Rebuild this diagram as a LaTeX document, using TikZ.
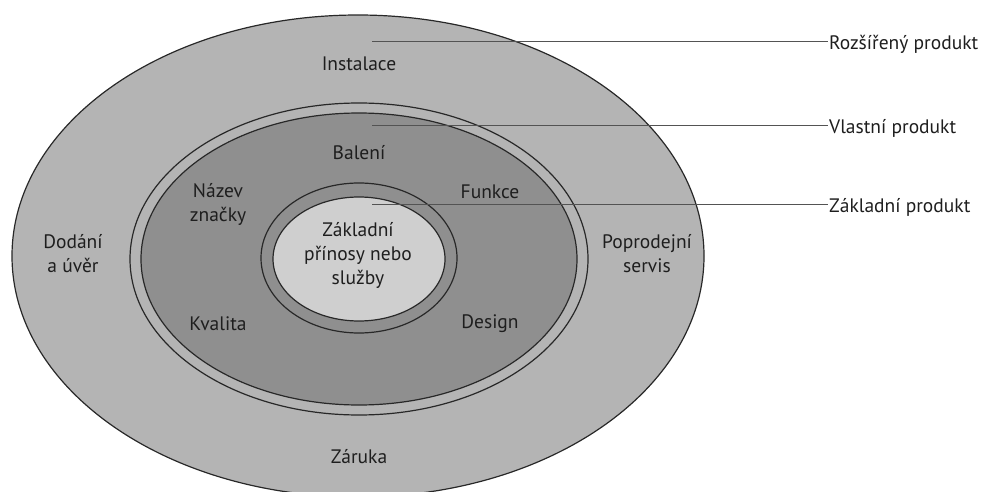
\documentclass[tikz,border=0pt]{standalone}
\usepackage{fontspec}
\setmainfont{PT Sans}
\usepackage{tikz}
\usetikzlibrary{positioning}
\definecolor{ringline}{RGB}{40,40,40}
\definecolor{outergrey}{RGB}{180,180,180}
\definecolor{midgrey}{RGB}{143,143,143}
\definecolor{coregrey}{RGB}{207,207,207}
\definecolor{txtgrey}{RGB}{30,30,30}

\begin{document}
\begin{tikzpicture}[
  x=1pt, y=-1pt,
  font=\fontsize{19.5}{24}\selectfont,
  ring/.style={draw=ringline, line width=1.2pt},
  lbl/.style={align=center, text=txtgrey, inner sep=1pt},
  side/.style={anchor=west, text=txtgrey, inner sep=1pt},
  lead/.style={draw=ringline!80, line width=1pt}
]
\useasboundingbox (0,0) rectangle (995,492);

% ── Rings, from the outside in ──
\draw[ring, fill=outergrey] (358,256) ellipse [x radius=346pt, y radius=241pt];
\draw[ring, fill=outergrey] (359,259) ellipse [x radius=229pt, y radius=156pt];
\draw[ring, fill=midgrey]   (359,259) ellipse [x radius=218pt, y radius=146pt];
\draw[ring, fill=midgrey]   (359,258) ellipse [x radius=98pt,  y radius=75pt];
\draw[ring, fill=coregrey]  (359,259) ellipse [x radius=86pt,  y radius=62pt];

% ── Texts inside the rings ──
\node[lbl] (core)  at (358,255) {Základní\\přínosy nebo\\služby};
\node[lbl] (inst)  at (359,64)  {Instalace};
\node[lbl] (bal)   at (359,153) {Balení};
\node[lbl] (naz)   at (218,204) {Název\\značky};
\node[lbl] (fun)   at (490,192) {Funkce};
\node[lbl] (dod)   at (73,254)  {Dodání\\a úvěr};
\node[lbl] (popr)  at (647,254) {Poprodejní\\servis};
\node[lbl] (kva)   at (218,324) {Kvalita};
\node[lbl] (des)   at (490,324) {Design};
\node[lbl] (zar)   at (359,457) {Záruka};

% ── Labels on the right ──
\node[side] (rozs) at (828,44)  {Rozšířený produkt};
\node[side] (vlas) at (828,128) {Vlastní produkt};
\node[side] (zakl) at (828,207) {Základní produkt};

% ── Leader lines ──
\coordinate (prozs) at (372,42);
\coordinate (pvlas) at (372,126);
\coordinate (pzakl) at (372,204);
\draw[lead] (prozs) -- (prozs -| rozs.west);
\draw[lead] (pvlas) -- (pvlas -| vlas.west);
\draw[lead] (pzakl) -- (pzakl -| zakl.west);

\end{tikzpicture}
\end{document}
